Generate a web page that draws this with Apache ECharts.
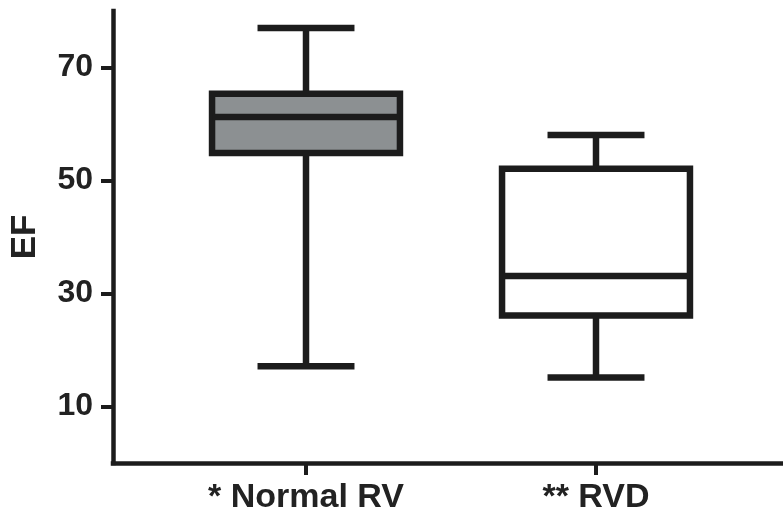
<!DOCTYPE html>
<html>
<head>
<meta charset="utf-8">
<script src="https://cdn.jsdelivr.net/npm/echarts@6/dist/echarts.min.js"></script>
<style>
  html, body { margin: 0; padding: 0; background: #ffffff; }
  #chart { width: 783px; height: 515px; }
</style>
</head>
<body>
<div id="chart"></div>
<script>
// ---- data ----
const categories = ['* Normal RV', '** RVD'];
const minValues = [17, 15];
const q1Values = [54.8, 26];
const medianValues = [61.2, 33];
const q3Values = [65.3, 52];
const maxValues = [77, 58];
const yTickValues = [10, 30, 50, 70];
const yAxisName = 'EF';

// ---- style ----
const ink = '#1c1c1c';
const boxFills = ['#8c9092', '#ffffff'];
const FONT = '"Liberation Sans", Arial, Helvetica, sans-serif';

const boxData = categories.map((c, i) => [i, minValues[i], q1Values[i], medianValues[i], q3Values[i], maxValues[i]]);

function renderBox(params, api) {
  const idx = api.value(0);
  const band = api.size([1, 0])[0];
  const w = band * 0.648;
  const capHalf = w / 4 + 1.5;
  const pMin = api.coord([idx, api.value(1)]);
  const pQ1 = api.coord([idx, api.value(2)]);
  const pMed = api.coord([idx, api.value(3)]);
  const pQ3 = api.coord([idx, api.value(4)]);
  const pMax = api.coord([idx, api.value(5)]);
  const cx = pMed[0];
  const lw = 6.5;
  const ls = { stroke: ink, lineWidth: lw, lineCap: 'butt' };
  return {
    type: 'group',
    children: [
      { type: 'line', shape: { x1: cx, y1: pMax[1], x2: cx, y2: pQ3[1] }, style: ls },
      { type: 'line', shape: { x1: cx, y1: pQ1[1], x2: cx, y2: pMin[1] }, style: ls },
      { type: 'line', shape: { x1: cx - capHalf, y1: pMax[1], x2: cx + capHalf, y2: pMax[1] }, style: ls },
      { type: 'line', shape: { x1: cx - capHalf, y1: pMin[1], x2: cx + capHalf, y2: pMin[1] }, style: ls },
      { type: 'rect', shape: { x: cx - w / 2, y: pQ3[1], width: w, height: pQ1[1] - pQ3[1] },
        style: { fill: boxFills[idx], stroke: ink, lineWidth: lw } },
      { type: 'line', shape: { x1: cx - w / 2, y1: pMed[1], x2: cx + w / 2, y2: pMed[1] }, style: ls }
    ]
  };
}

const chart = echarts.init(document.getElementById('chart'), null, { renderer: 'canvas' });
chart.setOption({
  animation: false,
  backgroundColor: '#ffffff',
  grid: [
    { left: 113, right: 0, top: 11, bottom: 52 },
    { left: 161, right: 42, top: 11, bottom: 52 }
  ],
  xAxis: [
    {
      gridIndex: 0, type: 'value', min: 0, max: 1,
      axisLine: { show: true, onZero: false, lineStyle: { color: ink, width: 4.5, cap: 'square' } },
      axisTick: { show: false }, axisLabel: { show: false }, splitLine: { show: false }
    },
    {
      gridIndex: 1, type: 'category', data: categories, boundaryGap: true,
      axisLine: { show: false },
      axisTick: { show: true, alignWithLabel: true, length: 13, lineStyle: { color: ink, width: 4 } },
      axisLabel: { show: true, interval: 0, margin: 19, fontSize: 34, fontWeight: 'bold', color: '#222222', fontFamily: FONT },
      splitLine: { show: false }
    }
  ],
  yAxis: [
    {
      gridIndex: 0, type: 'value', min: 0, max: 80,
      name: yAxisName, nameLocation: 'middle', nameGap: 70,
      nameTextStyle: { fontSize: 35, fontWeight: 'bold', color: '#222222', fontFamily: FONT },
      axisLine: { show: true, onZero: false, lineStyle: { color: ink, width: 4.5, cap: 'square' } },
      axisTick: { show: true, length: 12, customValues: yTickValues, lineStyle: { color: ink, width: 4 } },
      axisLabel: { show: true, margin: 20, customValues: yTickValues, fontSize: 32, fontWeight: 'bold', color: '#222222', fontFamily: FONT },
      splitLine: { show: false }
    },
    {
      gridIndex: 1, type: 'value', min: 0, max: 80, show: false,
      splitLine: { show: false }
    }
  ],
  series: [
    {
      type: 'custom',
      xAxisIndex: 1, yAxisIndex: 1,
      renderItem: renderBox,
      encode: { x: 0, y: [1, 2, 3, 4, 5] },
      data: boxData,
      clip: false
    }
  ]
});
</script>
</body>
</html>
